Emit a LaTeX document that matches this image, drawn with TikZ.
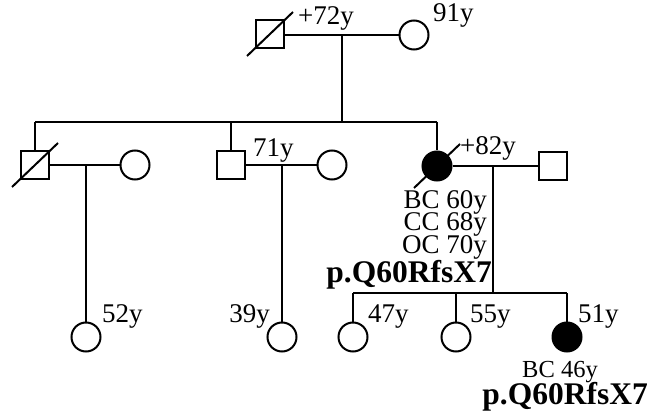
\documentclass[tikz,border=0pt]{standalone}
\usepackage{fontspec}
\setmainfont{Liberation Serif}
\usetikzlibrary{shapes.geometric,calc}
\begin{document}
\begin{tikzpicture}[x=1pt,y=-1pt,
  ln/.style={line width=2pt},
  male/.style={draw, rectangle, line width=2pt, minimum size=28pt, inner sep=0pt},
  fem/.style={draw, circle, line width=2pt, minimum size=29pt, inner sep=0pt},
  aff/.style={fill=black},
  lab/.style={font=\fontsize{27}{27}\selectfont, inner sep=0pt},
  slab/.style={font=\fontsize{24.5}{24.5}\selectfont, inner sep=0pt},
  blab/.style={font=\fontsize{31.5}{31.5}\selectfont\bfseries, inner sep=0pt}]
\useasboundingbox (0,0) rectangle (651,417);
% Generation I
\node[male] (g1m) at (270,34) {};
\node[fem] (g1f) at (414,35) {};
\draw[ln] (g1m.east |- g1f) -- (g1f.west);
\coordinate (g1d) at (342,35);
\coordinate (s1) at (342,122);
\draw[ln] (g1d) -- (s1);
% sibship line
\coordinate (s1l) at (35,122);
\coordinate (s1r) at (437,122);
\draw[ln] (s1l) -- (s1r);
% Generation II
\node[male] (a1) at (35,165) {};
\node[fem] (a2) at (135,165) {};
\node[male] (b1) at (231,165) {};
\node[fem] (b2) at (332,165) {};
\node[fem, aff] (c1) at (437,166) {};
\node[male] (c2) at (553,166) {};
\draw[ln] (s1l) -- (a1.north);
\draw[ln] (s1 -| b1) -- (b1.north);
\draw[ln] (s1r) -- (c1.north);
\draw[ln] (a1.east) -- (a2.west);
\draw[ln] (b1.east) -- (b2.west);
\draw[ln] (c1.east) -- (c2.west);
% Generation III
\node[fem] (d1) at (86,337) {};
\node[fem] (e1) at (282,337) {};
\node[fem] (f1) at (353,337) {};
\node[fem] (f2) at (456,337) {};
\node[fem, aff] (f3) at (567,337) {};
\coordinate (am) at (86,165);
\coordinate (bm) at (282,165);
\coordinate (cm) at (493,166);
\coordinate (s3) at (493,293);
\draw[ln] (am) -- (d1.north);
\draw[ln] (bm) -- (e1.north);
\draw[ln] (cm) -- (s3);
\draw[ln] (f1.north |- s3) -- (f3.north |- s3);
\draw[ln] (f1.north |- s3) -- (f1.north);
\draw[ln] (f2.north |- s3) -- (f2.north);
\draw[ln] (f3.north |- s3) -- (f3.north);
% deceased slashes
\draw[ln] ($(g1m)+(-23,22)$) -- ($(g1m)+(23,-22)$);
\draw[ln] ($(a1)+(-23,22)$) -- ($(a1)+(23,-22)$);
\draw[ln] ($(c1)+(-23,22)$) -- ($(c1)+(23,-22)$);
% labels
\node[lab, anchor=base west] (t1) at (298,25) {+72y};
\node[lab, anchor=base west] (t2) at (433,22) {91y};
\node[lab, anchor=base west] (t3) at (253,157) {71y};
\node[lab, anchor=base west] (t4) at (460,155) {+82y};
\node[lab, anchor=base east] (t5) at (487,208) {BC 60y};
\node[lab, anchor=base east] (t6) at (487,230) {CC 68y};
\node[lab, anchor=base east] (t7) at (487,253) {OC 70y};
\node[blab, anchor=base east] (t8) at (492,282) {p.Q60RfsX7};
\node[lab, anchor=base west] (t9) at (102,322) {52y};
\node[lab, anchor=base east] (t10) at (270,322) {39y};
\node[lab, anchor=base west] (t11) at (368,322) {47y};
\node[lab, anchor=base west] (t12) at (470,322) {55y};
\node[lab, anchor=base west] (t13) at (578,322) {51y};
\node[slab, anchor=base] (t14) at (560,377) {BC 46y};
\node[blab, anchor=base east] (t15) at (648,404) {p.Q60RfsX7};
\end{tikzpicture}
\end{document}
